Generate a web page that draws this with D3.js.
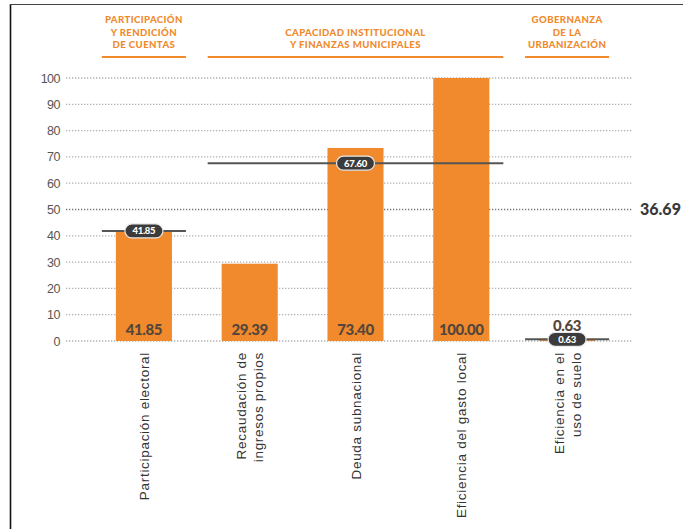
<!DOCTYPE html>
<html><head><meta charset="utf-8">
<script src="https://cdn.jsdelivr.net/npm/d3@7"></script>
<style>body{margin:0;background:#fff}svg{display:block}</style>
</head><body>
<svg id="c" width="683" height="529"></svg>
<script>
const categories = [["Participación electoral"],["Recaudación de","ingresos propios"],["Deuda subnacional"],["Eficiencia del gasto local"],["Eficiencia en el","uso de suelo"]];
const values = [41.85, 29.39, 73.40, 100.00, 0.63];
const groupNames = [["PARTICIPACIÓN","Y RENDICIÓN","DE CUENTAS"],["CAPACIDAD INSTITUCIONAL","Y FINANZAS MUNICIPALES"],["GOBERNANZA","DE LA","URBANIZACIÓN"]];
const groupStart = [0, 1, 4];
const groupEnd = [0, 3, 4];
const groupAverages = [41.85, 67.60, 0.63];
const groupPillAt = [0, 2, 4];
const yTicks = [0,10,20,30,40,50,60,70,80,90,100];
const overallAverage = 36.69;
const highlightTick = 50;

const svg = d3.select("#c");
const orange = "#f08a2c";
// frame
svg.append("line").attr("x1",10.5).attr("x2",10.5).attr("y1",4).attr("y2",529).attr("stroke","#111").attr("stroke-width",1.6);
svg.append("line").attr("x1",10).attr("x2",683).attr("y1",4.5).attr("y2",4.5).attr("stroke","#444").attr("stroke-width",1.2);

const y = d3.scaleLinear().domain([0,100]).range([341,78]);
const x = d3.scaleBand().domain(d3.range(values.length)).range([91,620]).paddingInner(0.47).paddingOuter(0.235);

// grid
const grid = svg.append("g");
yTicks.forEach(t=>{
  grid.append("line").attr("x1",66).attr("x2",632).attr("y1",y(t)).attr("y2",y(t))
    .attr("stroke", t===highlightTick?"#777":"#b0b0b0").attr("stroke-width",t===highlightTick?1.7:1.3)
    .attr("stroke-dasharray","1.3,1.7");
});
const yAxis = d3.axisLeft(y).tickValues(yTicks).tickSize(0).tickPadding(0);
const ga = svg.append("g").attr("transform","translate(60,0)").call(yAxis);
ga.select(".domain").remove();
ga.selectAll("text").attr("font-family","Liberation Sans, Arial, sans-serif").attr("font-size",12.5).attr("fill","#555").attr("letter-spacing","-0.5");

svg.append("text").attr("x",640).attr("y",y(highlightTick)+5.5).text(overallAverage.toFixed(2))
  .attr("font-family","Lato, sans-serif").attr("font-weight",900).attr("font-size",16).attr("fill","#3a3a3a");

// bars
svg.append("g").selectAll("rect").data(values).join("rect")
  .attr("x",(d,i)=>x(i)).attr("width",x.bandwidth()).attr("y",d=>y(d)).attr("height",d=>y(0)-y(d)).attr("fill",orange);

// value labels
svg.append("g").selectAll("text").data(values).join("text")
  .attr("x",(d,i)=>x(i)+x.bandwidth()/2).attr("y",(d,i)=> d<5 ? y(0)-10 : y(0)-6).attr("text-anchor","middle")
  .attr("font-family","Lato, sans-serif").attr("font-weight",900).attr("font-size",15).attr("fill","#55463b").attr("letter-spacing","-0.4")
  .text(d=>d.toFixed(2));

// group headers and averages
groupNames.forEach((lines,g)=>{
  const x0 = x(groupStart[g]) - 14, x1 = x(groupEnd[g]) + x.bandwidth() + 14;
  const cx = (x0+x1)/2;
  const n = lines.length;
  lines.forEach((l,i)=>{
    svg.append("text").attr("x",cx).attr("y",48 - (n-1-i)*12.5).attr("text-anchor","middle")
      .attr("font-family","Lato, sans-serif").attr("font-weight",900).attr("font-size",9.6).attr("letter-spacing","0.4").attr("fill",orange).text(l);
  });
  svg.append("line").attr("x1",x0).attr("x2",x1).attr("y1",57).attr("y2",57).attr("stroke",orange).attr("stroke-width",2);
  // average line
  const ay = y(groupAverages[g]);
  svg.append("line").attr("x1",x0).attr("x2",x1).attr("y1",ay).attr("y2",ay).attr("stroke","#555").attr("stroke-width",2);
  const px = x(groupPillAt[g]) + x.bandwidth()/2;
  svg.append("rect").attr("x",px-19).attr("y",ay-7).attr("width",38).attr("height",14).attr("rx",7)
    .attr("fill","#3b3b3b").attr("stroke","#e8e8e8").attr("stroke-width",1.2);
  svg.append("text").attr("x",px).attr("y",ay+3.5).attr("text-anchor","middle")
    .attr("font-family","Lato, sans-serif").attr("font-weight",900).attr("font-size",9.5).attr("fill","#fff").attr("letter-spacing","-0.3")
    .text(groupAverages[g].toFixed(2));
});

// x labels
categories.forEach((lines,i)=>{
  const cx = x(i)+x.bandwidth()/2;
  const n = lines.length;
  lines.forEach((l,j)=>{
    const off = (j-(n-1)/2)*17;
    svg.append("text").attr("transform",`translate(${cx+off+5},352) rotate(-90)`).attr("text-anchor","end")
      .attr("font-family","Liberation Sans, Arial, sans-serif").attr("font-size",13.5).attr("letter-spacing","0.7").attr("fill","#333").text(l);
  });
});
</script>
</body></html>
